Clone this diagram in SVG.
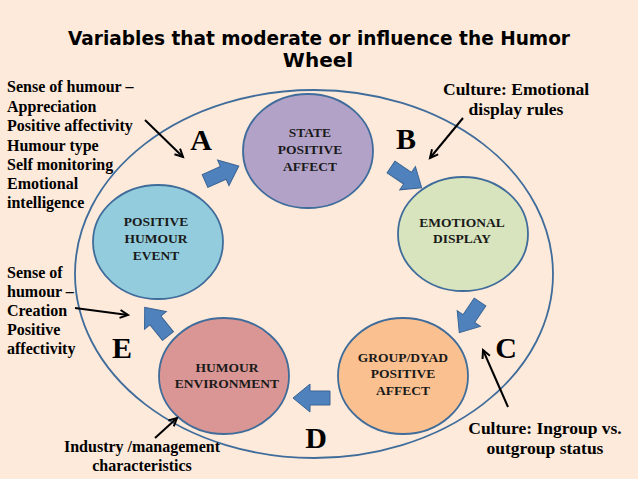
<svg xmlns="http://www.w3.org/2000/svg" width="638" height="479" viewBox="0 0 638 479">
<style>
.title{font-family:"Comic Sans MS","DejaVu Sans",sans-serif;font-weight:bold;font-size:20px;fill:#000;text-anchor:middle}
.node{stroke:#3F6C9B;stroke-width:1.8}
.nt{font-family:"Liberation Serif","Times New Roman",serif;font-weight:bold;font-size:13.5px;fill:#1a1a1a;text-anchor:middle}
.ann{font-family:"Liberation Serif","Times New Roman",serif;font-weight:bold;font-size:16px;fill:#000}
.annr{font-family:"Liberation Serif","Times New Roman",serif;font-weight:bold;font-size:17.5px;fill:#000;text-anchor:middle}
.let{font-family:"Liberation Serif","Times New Roman",serif;font-weight:bold;font-size:30px;fill:#000;text-anchor:middle}
.blk{fill:#4F81BD;stroke:#3A6494;stroke-width:1}
.thin{stroke:#000;stroke-width:2;fill:none;marker-end:url(#ah)}
</style>
<defs>
<marker id="ah" markerUnits="userSpaceOnUse" markerWidth="12" markerHeight="12" refX="9" refY="5" orient="auto">
<path d="M1,1 L9,5 L1,9" fill="none" stroke="#000" stroke-width="2"/>
</marker>
<path id="barrow" d="M0,-7 L20,-7 L20,-14 L37,0 L20,14 L20,7 L0,7 Z"/>
</defs>
<rect width="638" height="479" fill="#FDEADA"/>
<text class="title" x="319" y="45" textLength="502" lengthAdjust="spacingAndGlyphs">Variables that moderate or influence the Humor</text>
<text class="title" x="318" y="67">Wheel</text>
<ellipse cx="314" cy="274" rx="239" ry="184" fill="none" stroke="#3F6C9B" stroke-width="1.8"/>
<g id="state">
<ellipse class="node" cx="308" cy="151" rx="65" ry="57" fill="#B3A2C7"/>
<text class="nt" x="310" y="136.5">STATE</text>
<text class="nt" x="310" y="153.5">POSITIVE</text>
<text class="nt" x="310" y="170.5">AFFECT</text>
</g>
<g id="emotional">
<ellipse class="node" cx="463" cy="234" rx="65" ry="57" fill="#D7E4BD"/>
<text class="nt" x="462" y="226.5">EMOTIONAL</text>
<text class="nt" x="462" y="243">DISPLAY</text>
</g>
<g id="event">
<ellipse class="node" cx="158" cy="242" rx="65" ry="57" fill="#93CDDD"/>
<text class="nt" x="156" y="225.5">POSITIVE</text>
<text class="nt" x="156" y="242.5">HUMOUR</text>
<text class="nt" x="156" y="259.5">EVENT</text>
</g>
<g id="environment">
<ellipse class="node" cx="224" cy="376" rx="65" ry="58" fill="#D99694"/>
<text class="nt" x="227" y="371.5">HUMOUR</text>
<text class="nt" x="227" y="387.5">ENVIRONMENT</text>
</g>
<g id="group">
<ellipse class="node" cx="403" cy="376" rx="65" ry="58" fill="#FAC090"/>
<text class="nt" x="403" y="361.5">GROUP/DYAD</text>
<text class="nt" x="403" y="378">POSITIVE</text>
<text class="nt" x="403" y="394.5">AFFECT</text>
</g>
<g id="connectors">
<use href="#barrow" class="blk" transform="translate(205,181) rotate(-24)"/>
<use href="#barrow" class="blk" transform="translate(391,167) rotate(34)"/>
<use href="#barrow" class="blk" transform="translate(480,302) rotate(124)"/>
<use href="#barrow" class="blk" transform="translate(330,398) rotate(180)"/>
<use href="#barrow" class="blk" transform="translate(168,336) rotate(-129)"/>
<line class="thin" x1="145" y1="120" x2="183" y2="157"/>
<line class="thin" x1="463" y1="118" x2="430" y2="158"/>
<line class="thin" x1="75" y1="308" x2="128" y2="315"/>
<line class="thin" x1="155" y1="438" x2="177" y2="418"/>
<line class="thin" x1="508" y1="407" x2="483" y2="350"/>
</g>
<g id="labels">
<text class="let" x="201" y="150">A</text>
<text class="let" x="406" y="149">B</text>
<text class="let" x="506" y="358">C</text>
<text class="let" x="316" y="448">D</text>
<text class="let" x="122" y="358">E</text>
<text class="ann" x="7" y="92">Sense of humour –</text>
<text class="ann" x="7" y="112">Appreciation</text>
<text class="ann" x="7" y="131">Positive affectivity</text>
<text class="ann" x="7" y="151">Humour type</text>
<text class="ann" x="7" y="170">Self monitoring</text>
<text class="ann" x="7" y="189">Emotional</text>
<text class="ann" x="7" y="208">intelligence</text>
<text class="ann" x="7" y="278">Sense of</text>
<text class="ann" x="7" y="297">humour –</text>
<text class="ann" x="7" y="316">Creation</text>
<text class="ann" x="7" y="335">Positive</text>
<text class="ann" x="7" y="354">affectivity</text>
<text class="ann" x="142" y="452" text-anchor="middle">Industry /management</text>
<text class="ann" x="142" y="471" text-anchor="middle">characteristics</text>
<text class="annr" x="516" y="95">Culture: Emotional</text>
<text class="annr" x="516" y="115">display rules</text>
<text class="annr" x="545" y="434">Culture: Ingroup vs.</text>
<text class="annr" x="545" y="454">outgroup status</text>
</g>
</svg>
